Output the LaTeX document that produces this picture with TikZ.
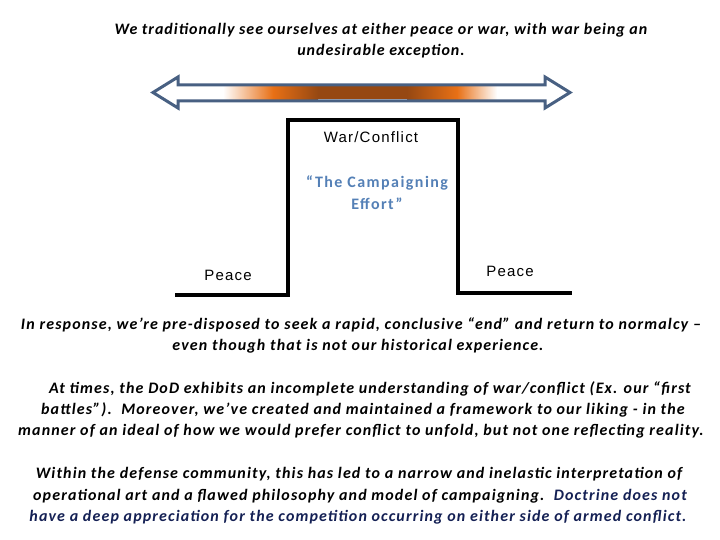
\documentclass[tikz,border=0pt]{standalone}
\usepackage{fontspec}
\setmainfont{Carlito}
\newfontfamily\bodyfont[LetterSpace=7]{Carlito}
\newfontfamily\topfont[LetterSpace=6]{Carlito}
\newfontfamily\campfont[LetterSpace=9]{Carlito}
\newfontfamily\arialfont[LetterSpace=8]{Liberation Sans}
\definecolor{arrowblue}{RGB}{72,96,130}
\definecolor{orng}{RGB}{232,112,22}
\definecolor{brwn}{RGB}{150,72,18}
\definecolor{campblue}{RGB}{84,128,182}
\definecolor{navy}{RGB}{20,32,84}
\tikzset{
  bodytext/.style={font=\bodyfont\fontsize{16}{19}\selectfont\bfseries\itshape, inner sep=0pt, anchor=center},
  toptext/.style={font=\topfont\fontsize{16}{19}\selectfont\bfseries\itshape, inner sep=0pt, anchor=center},
  labeltext/.style={font=\arialfont\fontsize{15}{18}\selectfont, inner sep=0pt},
  camptext/.style={font=\campfont\fontsize{16}{19}\selectfont\bfseries, text=campblue, inner sep=0pt},
}
\begin{document}
\begin{tikzpicture}[x=1pt,y=-1pt]
\useasboundingbox (0,0) rectangle (720,540);
% top text
\node[toptext] (t1) at (381,30) {We traditionally see ourselves at either peace or war, with war being an};
\node[toptext] (t2) at (381,51) {undesirable exception.};
% gradient bar
\shade[left color=white, right color=orng] (223,86.5) rectangle (273,99.5);
\shade[left color=orng, right color=brwn] (273,86.5) rectangle (318,99.5);
\fill[brwn] (317.5,86.5) rectangle (407.5,99.5);
\shade[left color=brwn, right color=orng] (407,86.5) rectangle (457,99.5);
\shade[left color=orng, right color=white] (457,86.5) rectangle (497,99.5);
% double arrow outline
\draw[arrowblue, line width=3pt, line join=miter]
  (153,92.5) -- (178,77) -- (178,85) -- (545,85) -- (545,77) -- (570,92.5)
  -- (545,108) -- (545,101) -- (178,101) -- (178,108) -- cycle;
% step
\coordinate (a) at (175,295);
\coordinate (b) at (288,295);
\coordinate (c) at (288,120);
\coordinate (d) at (458,120);
\coordinate (e) at (458,293);
\coordinate (f) at (572,293);
\draw[line width=3.5pt, line join=miter] (a) -- (b) -- (c) -- (d) -- (e) -- (f);
\node[labeltext] (war) at (371,137) {War/Conflict};
\node[camptext] (c1) at (377,183) {“The Campaigning};
\node[camptext] (c2) at (377,204) {Effort”};
\node[labeltext] (p1) at (228,275) {Peace};
\node[labeltext] (p2) at (510,271) {Peace};
% paragraphs
\node[bodytext] (l1) at (361,325) {In response, we’re pre-disposed to seek a rapid, conclusive “end” and return to normalcy –};
\node[bodytext] (l2) at (358,346) {even though that is not our historical experience.};
\node[bodytext] (l3) at (370,389) {At times, the DoD exhibits an incomplete understanding of war/conflict (Ex. our “first};
\node[bodytext] (l4) at (363,410) {battles”).\ \ Moreover, we’ve created and maintained a framework to our liking - in the};
\node[bodytext] (l5) at (361,431) {manner of an ideal of how we would prefer conflict to unfold, but not one reflecting reality.};
\node[bodytext] (l6) at (359,474) {Within the defense community, this has led to a narrow and inelastic interpretation of};
\node[bodytext] (l7) at (360,496) {operational art and a flawed philosophy and model of campaigning.\ \ \textcolor{navy}{Doctrine does not}};
\node[bodytext, text=navy] (l8) at (358,517) {have a deep appreciation for the competition occurring on either side of armed conflict.};
\end{tikzpicture}
\end{document}
